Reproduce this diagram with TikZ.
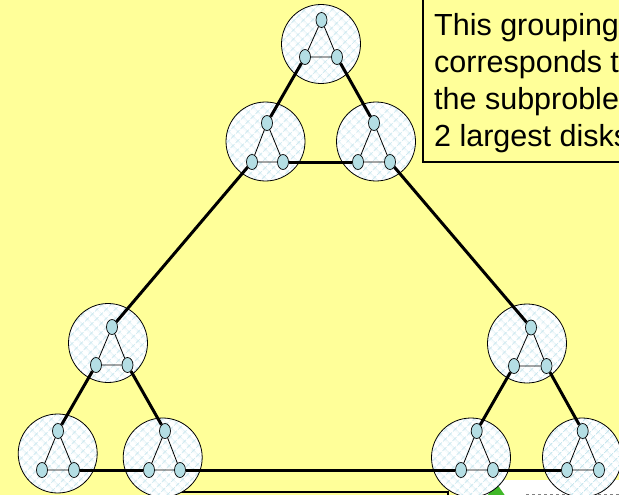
\documentclass[tikz,border=0pt]{standalone}
\usepackage{fontspec}
\setmainfont{Liberation Sans}
\usetikzlibrary{shapes.geometric,patterns.meta}
\definecolor{bgyellow}{RGB}{255,255,153}
\definecolor{hatchblue}{RGB}{200,230,238}
\definecolor{nodeblue}{RGB}{180,222,228}
\definecolor{boxgreen}{RGB}{64,184,40}
\pgfdeclarelayer{back}
\pgfdeclarelayer{bg}
\pgfdeclarelayer{edges}
\pgfsetlayers{back,bg,edges,main}
\tikzset{
  clus/.style={circle, minimum size=79pt, inner sep=0pt, fill=white,
    postaction={pattern={Hatch[angle=45,distance=6.5pt,line width=1pt]}, pattern color=hatchblue},
    postaction={draw=black, line width=0.8pt}},
  vert/.style={ellipse, draw=black, line width=0.7pt, fill=nodeblue,
    minimum width=11pt, minimum height=15pt, inner sep=0pt},
  inedge/.style={line width=0.8pt, black},
  link/.style={line width=3pt, black},
}
\newcommand\cluster[8]{%
  \begin{pgfonlayer}{bg}\node[clus] (#1) at (#2,#3) {};\end{pgfonlayer}
  \node[vert] (#1t) at (#4,#5) {};
  \node[vert] (#1l) at (#6,#8) {};
  \node[vert] (#1r) at (#7,#8) {};
  \begin{pgfonlayer}{edges}\draw[inedge] (#1t) -- (#1l) -- (#1r) -- (#1t);\end{pgfonlayer}
}
\begin{document}
\begin{tikzpicture}[x=1pt,y=-1pt]
\useasboundingbox (0,0) rectangle (619,495);
\begin{pgfonlayer}{back}
  \fill[bgyellow] (0,0) rectangle (619,495);
  % bottom text box (cut off)
  \draw[line width=1.2pt, fill=bgyellow] (170,492) rectangle (448,520);
  % white box at bottom right
  \fill[white] (484,480) rectangle (625,500);
  \fill[boxgreen] (486,497) -- (497,484) -- (506,497) -- cycle;
  \draw[gray, line width=1.5pt, dash pattern=on 3pt off 3pt] (526,494.5) -- (619,494.5);
\end{pgfonlayer}

\cluster{T}{321}{44}{321.5}{20}{305}{337}{57}
\cluster{A}{265.5}{141.5}{267}{123}{252}{283}{162}
\cluster{B}{376}{141.5}{374}{123}{358}{390}{162}
\cluster{C}{108}{343}{112}{327}{96}{127.5}{365}
\cluster{D}{57.7}{453.5}{58}{431}{42}{74}{470}
\cluster{E}{162.7}{457.5}{165}{431}{149}{180}{470}
\cluster{F}{471}{457.5}{476.7}{431}{461}{493}{470}
\cluster{G}{582}{457.5}{582.7}{431}{567}{599}{470}
\cluster{H}{527}{343.5}{531}{327.5}{514}{546.5}{366}

\begin{pgfonlayer}{edges}
  \draw[link] (Tl) -- (At);
  \draw[link] (Tr) -- (Bt);
  \draw[link] (Ar) -- (Bl);
  \draw[link] (Al) -- (Ct);
  \draw[link] (Br) -- (Ht);
  \draw[link] (Cl) -- (Dt);
  \draw[link] (Cr) -- (Et);
  \draw[link] (Dr) -- (El);
  \draw[link] (Er) -- (Fl);
  \draw[link] (Hl) -- (Ft);
  \draw[link] (Hr) -- (Gt);
  \draw[link] (Fr) -- (Gl);
\end{pgfonlayer}

% note box (cut off at top and right)
\draw[line width=1.5pt, fill=bgyellow] (423,-10) rectangle (640,162);
\node[anchor=north west, align=left, inner sep=0pt,
      font=\fontsize{30.5}{37.3}\selectfont] (note) at (434,12.7)
  {This grouping\\corresponds to\\the subproblem\\2 largest disks};
\end{tikzpicture}
\end{document}
